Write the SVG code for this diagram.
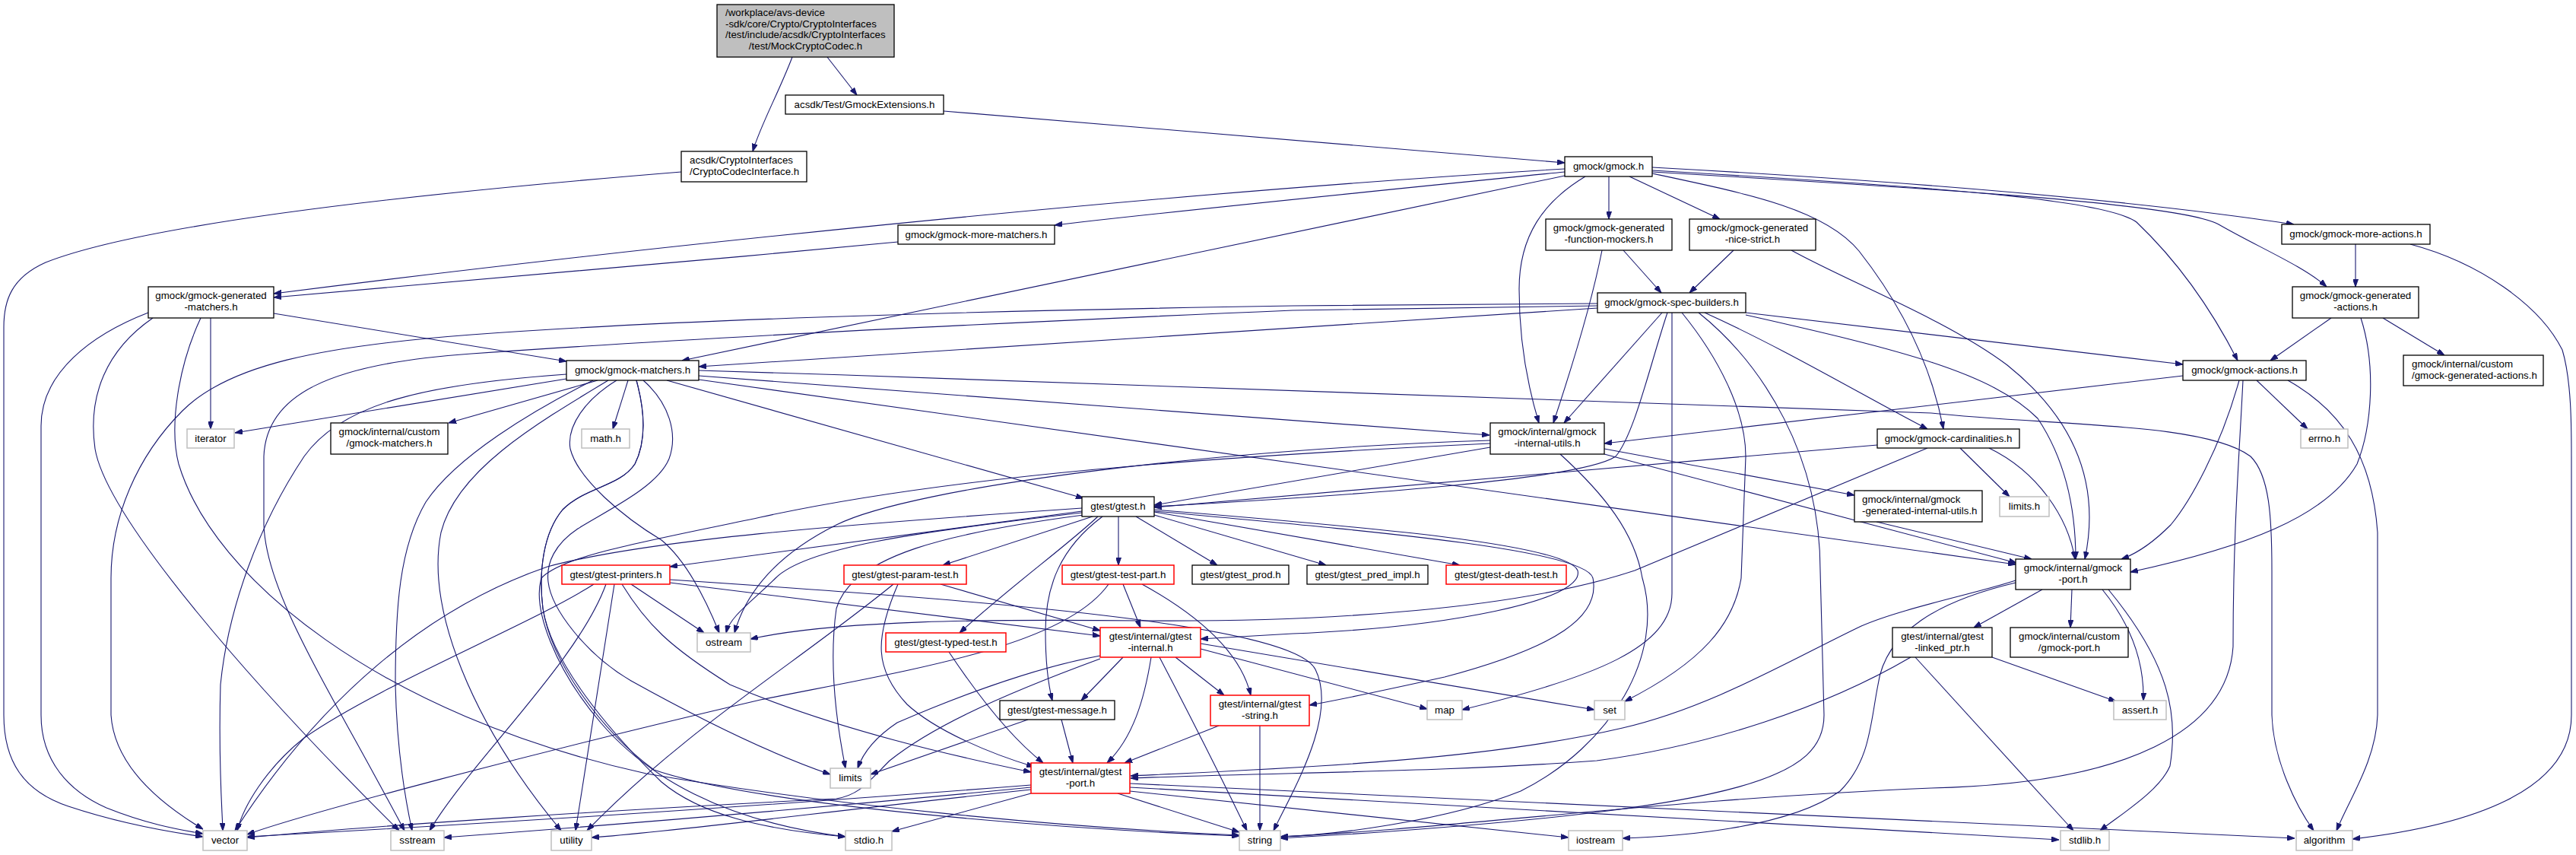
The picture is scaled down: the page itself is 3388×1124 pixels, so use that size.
<svg xmlns="http://www.w3.org/2000/svg" width="3388" height="1124" viewBox="0 0 3388 1124">
<defs>
<marker id="a" viewBox="0 0 10 7" refX="10" refY="3.5" markerWidth="10" markerHeight="7" markerUnits="userSpaceOnUse" orient="auto"><path d="M0,0 L10,3.5 L0,7 z" fill="#191970" stroke="#191970" stroke-width="1"/></marker>
</defs>
<style>
.n rect{fill:#fff;stroke:#000;stroke-width:1.3}
.m rect{fill:#bfbfbf;stroke:#000;stroke-width:1.3}
.g rect{fill:#fff;stroke:#bfbfbf;stroke-width:1.5}
.r rect{fill:#fff;stroke:#ff0000;stroke-width:1.5}
text{font-family:"Liberation Sans",Arial,sans-serif;font-size:13.3px;fill:#000}
.c{text-anchor:middle}
#edges path{fill:none;stroke:#191970;stroke-width:1.1;marker-end:url(#a)}
</style>
<rect x="0" y="0" width="3388" height="1124" fill="#fff"/>
<g id="edges">
<path d="M1042,75 C1025,120 1000,165 990,199"/>
<path d="M1088,75 L1127,125"/>
<path d="M1241,146 L2058,214"/>
<path d="M896,226 C600,250 200,290 60,345 C15,365 5,395 5,430 L5,940 C5,1000 30,1040 90,1060 C150,1080 210,1092 267,1100"/>
<path d="M2058,222 C1500,255 800,330 360,386"/>
<path d="M2058,226 C1800,252 1500,282 1387,296"/>
<path d="M2058,231 L897,474"/>
<path d="M2116,232 L2116,288"/>
<path d="M2143,232 L2262,288"/>
<path d="M2085,232 C2030,265 1998,310 1998,380 C1998,450 2010,510 2024,556"/>
<path d="M2173,228 C2300,255 2400,275 2445,330 C2500,400 2540,480 2556,564"/>
<path d="M2173,220 C2500,238 2800,262 3017,295"/>
<path d="M2173,224 C2550,246 2770,262 2810,292 C2850,330 2900,390 2943,474"/>
<path d="M2173,226 C2550,248 2870,268 2918,295 C2970,325 3030,350 3060,377"/>
<path d="M1181,318 C900,345 600,370 360,391"/>
<path d="M277,418 L277,564"/>
<path d="M360,412 L745,475"/>
<path d="M195,411 C120,440 54,490 54,560 L54,940 C54,1000 90,1040 140,1062 C190,1082 230,1090 267,1096"/>
<path d="M201,418 C140,460 115,520 125,590 C140,680 330,900 525,1092"/>
<path d="M264,418 C235,480 222,560 235,610 C280,760 500,940 850,1017 C1100,1060 1400,1088 1630,1098"/>
<path d="M2135,329 L2185,385"/>
<path d="M2107,329 C2095,390 2075,460 2043,556"/>
<path d="M2280,329 L2222,385"/>
<path d="M2356,329 C2430,370 2560,420 2640,480 C2740,560 2760,650 2742,735"/>
<path d="M3098,321 L3098,377"/>
<path d="M3170,321 C3260,345 3340,400 3370,460 C3382,500 3382,560 3382,600 L3382,940 C3382,1040 3250,1085 3094,1103"/>
<path d="M2101,399 L1700,402 C1200,410 850,423 620,440 C420,455 300,480 240,540 C180,600 146,680 146,760 L146,940 C150,1000 200,1050 267,1090"/>
<path d="M2101,402 L1700,408 C1300,425 900,445 620,465 C430,478 350,520 347,600 L347,690 C350,780 430,900 532,1092"/>
<path d="M2101,405 L919,482"/>
<path d="M2186,411 L2057,556"/>
<path d="M2193,411 C2170,480 2150,570 2125,600 C2080,630 1800,650 1518,666"/>
<path d="M2199,411 L2199,780 C2199,850 2100,890 1923,933"/>
<path d="M2212,411 C2260,470 2296,540 2296,600 L2290,760 C2280,820 2240,870 2137,922"/>
<path d="M2234,411 C2320,480 2394,600 2394,750 L2399,940 C2399,1020 2300,1060 1800,1095 L1684,1102"/>
<path d="M2242,411 C2350,460 2450,520 2535,564"/>
<path d="M2296,411 L2871,479"/>
<path d="M2296,414 C2500,460 2620,490 2680,550 C2720,610 2730,680 2730,735"/>
<path d="M3066,418 L2986,474"/>
<path d="M3105,418 C3125,480 3120,560 3100,610 C3060,680 2950,720 2802,752"/>
<path d="M3134,418 L3215,467"/>
<path d="M2871,494 L2110,583"/>
<path d="M2968,500 L3035,564"/>
<path d="M2945,500 C2920,590 2880,660 2855,690 C2830,715 2810,728 2790,735"/>
<path d="M2950,500 C2945,600 2937,700 2937,850 C2930,960 2800,1030 2540,1036 C2200,1050 1900,1090 1684,1100"/>
<path d="M3009,500 C3080,540 3120,600 3127,700 L3127,940 C3125,1000 3090,1050 3073,1092"/>
<path d="M745,498 L309,569"/>
<path d="M786,500 L590,556"/>
<path d="M826,500 L806,564"/>
<path d="M745,492 C560,505 450,530 400,600 C340,690 300,800 290,900 C287,1000 292,1060 293,1092"/>
<path d="M780,500 C700,540 600,600 560,660 C525,720 520,800 520,900 C522,990 535,1060 542,1092"/>
<path d="M800,500 C700,560 600,620 580,700 C560,800 620,950 738,1092"/>
<path d="M846,500 C880,530 892,570 880,603 C865,640 800,670 760,695 C730,715 718,740 721,765 C725,800 770,860 830,895 C920,945 1010,990 1092,1018"/>
<path d="M811,500 C770,525 745,560 750,590 C760,630 820,680 870,710 C900,735 925,780 946,832"/>
<path d="M837,500 C848,540 850,580 835,610 C815,640 770,640 740,670 C715,700 708,750 714,800 C725,870 800,960 870,1028 C920,1070 1000,1090 1112,1100"/>
<path d="M837,500 C848,540 850,580 835,610 C815,640 770,640 740,670 C715,700 708,750 714,800 C725,870 790,960 860,1012 C1000,1060 1400,1090 1630,1099"/>
<path d="M919,487 C1500,505 2100,525 2540,543 C2700,560 2900,555 2960,600 C2985,625 2988,680 2988,750 L2988,940 C2990,1000 3020,1060 3043,1092"/>
<path d="M919,494 L1959,572"/>
<path d="M919,499 L2651,742"/>
<path d="M877,500 L1425,655"/>
<path d="M2110,590 L2439,651"/>
<path d="M2110,597 L2652,740"/>
<path d="M1960,588 L1518,664"/>
<path d="M1960,579 C1600,590 1200,640 1100,690 C1000,740 975,800 966,832"/>
<path d="M2052,597 C2110,650 2150,700 2160,760 C2190,860 2120,980 2000,1040 C1900,1080 1750,1098 1684,1100"/>
<path d="M1960,583 C1600,600 1250,625 1000,680 C850,712 740,730 712,760 C700,800 730,880 790,950 C850,1020 950,1080 1112,1100"/>
<path d="M2468,686 L2672,735"/>
<path d="M2469,585 L1518,667"/>
<path d="M2535,589 L2150,750 C2000,800 1750,818 1500,816 C1300,814 1100,815 987,840"/>
<path d="M2578,589 L2643,653"/>
<path d="M2616,589 C2680,620 2720,680 2729,735"/>
<path d="M2686,775 L2596,825"/>
<path d="M2725,775 L2723,825"/>
<path d="M2765,775 C2810,830 2820,880 2819,921"/>
<path d="M2773,775 C2854,873 2865,940 2854,1007 C2840,1040 2790,1070 2762,1092"/>
<path d="M2651,763 C2600,780 2500,800 2448,823 C2350,870 2250,930 2134,957 C1950,1000 1700,1010 1487,1020"/>
<path d="M2651,766 C2550,790 2480,830 2470,900 C2460,950 2460,1000 2420,1040 C2350,1090 2200,1100 2134,1102"/>
<path d="M2513,864 C2400,930 2250,980 2100,1000 C1900,1015 1700,1015 1487,1023"/>
<path d="M2519,864 L2727,1092"/>
<path d="M2620,864 L2783,922"/>
<path d="M1423,672 L881,745"/>
<path d="M1423,668 C1100,690 850,710 720,745 C560,800 420,920 309,1092"/>
<path d="M1423,674 C1200,700 1060,720 1020,760 C990,790 960,810 955,832"/>
<path d="M1425,677 C1250,700 1120,730 1100,800 C1090,870 1100,950 1112,1010"/>
<path d="M1437,679 L1240,743"/>
<path d="M1444,679 C1400,720 1330,770 1262,832"/>
<path d="M1450,679 C1395,720 1375,770 1375,830 C1375,880 1380,905 1384,921"/>
<path d="M1471,679 L1471,743"/>
<path d="M1494,679 L1601,743"/>
<path d="M1518,677 L1744,743"/>
<path d="M1518,673 L1920,743"/>
<path d="M1518,670 C1800,693 2060,715 2075,750 C2085,790 1900,825 1700,833 L1579,840"/>
<path d="M1518,672 C1800,698 2085,722 2095,760 C2105,810 2050,850 1900,890 C1800,912 1750,922 1722,927"/>
<path d="M830,768 L926,832"/>
<path d="M881,766 L1447,836"/>
<path d="M881,762 C1300,790 1700,820 1730,880 C1760,940 1700,1040 1675,1092"/>
<path d="M781,768 C700,820 500,900 400,970 C350,1010 320,1060 312,1092"/>
<path d="M797,768 C760,870 620,1000 565,1092"/>
<path d="M808,768 L757,1092"/>
<path d="M818,768 C850,820 880,850 960,900 C1100,960 1260,995 1356,1015"/>
<path d="M1175,768 C1050,870 900,960 772,1092"/>
<path d="M1181,768 C1150,840 1150,880 1193,926 C1230,960 1300,990 1360,1008"/>
<path d="M1237,768 L1447,829"/>
<path d="M1477,768 L1500,825"/>
<path d="M1502,768 C1560,800 1630,850 1645,914"/>
<path d="M1458,768 C1400,850 1200,880 1000,920 C700,990 400,1070 325,1097"/>
<path d="M1248,857 C1290,920 1330,970 1372,1003"/>
<path d="M1447,862 C1350,880 1250,920 1180,950 C1150,970 1135,990 1128,1010"/>
<path d="M1447,866 C1300,920 1220,960 1170,1000 C1140,1030 1130,1045 1100,1050 C800,1065 500,1085 325,1101"/>
<path d="M1477,864 L1422,921"/>
<path d="M1514,864 C1505,920 1490,970 1456,1003"/>
<path d="M1525,864 C1570,950 1610,1030 1640,1092"/>
<path d="M1546,864 L1610,914"/>
<path d="M1579,853 L1877,932"/>
<path d="M1579,846 L2097,933"/>
<path d="M1352,946 L1145,1018"/>
<path d="M1396,946 L1411,1003"/>
<path d="M1657,954 L1657,1092"/>
<path d="M1603,954 L1479,1003"/>
<path d="M1356,1032 C1000,1060 600,1085 325,1100"/>
<path d="M1356,1035 C1100,1060 800,1085 584,1101"/>
<path d="M1356,1038 C1100,1065 900,1092 778,1101"/>
<path d="M1356,1043 L1173,1093"/>
<path d="M1470,1043 L1630,1094"/>
<path d="M1486,1035 L2708,1104"/>
<path d="M1486,1030 L3018,1102"/>
<path d="M1486,1040 L2063,1101"/>
</g>
<g id="n_main" class="m"><rect x="943" y="6" width="233" height="69"/><text x="954" y="21">/workplace/avs-device</text><text x="954" y="36">-sdk/core/Crypto/CryptoInterfaces</text><text x="954" y="50">/test/include/acsdk/CryptoInterfaces</text><text class="c" x="1059.5" y="65">/test/MockCryptoCodec.h</text></g>
<g id="n_gmockext" class="n"><rect x="1033" y="125" width="208" height="25"/><text class="c" x="1137" y="142">acsdk/Test/GmockExtensions.h</text></g>
<g id="n_cryptocodec" class="n"><rect x="896" y="199" width="165" height="40"/><text x="907" y="215">acsdk/CryptoInterfaces</text><text x="907" y="230">/CryptoCodecInterface.h</text></g>
<g id="n_gmock" class="n"><rect x="2058" y="206" width="115" height="26"/><text class="c" x="2115.5" y="223">gmock/gmock.h</text></g>
<g id="n_moremacthers" class="n"><rect x="1181" y="296" width="206" height="25"/><text class="c" x="1284" y="313">gmock/gmock-more-matchers.h</text></g>
<g id="n_funcmockers" class="n"><rect x="2033" y="288" width="166" height="41"/><text class="c" x="2116" y="304">gmock/gmock-generated</text><text class="c" x="2116" y="319">-function-mockers.h</text></g>
<g id="n_nicestrict" class="n"><rect x="2222" y="288" width="166" height="41"/><text class="c" x="2305" y="304">gmock/gmock-generated</text><text class="c" x="2305" y="319">-nice-strict.h</text></g>
<g id="n_moreactions" class="n"><rect x="3001" y="295" width="195" height="26"/><text class="c" x="3098.5" y="312">gmock/gmock-more-actions.h</text></g>
<g id="n_genmatchers" class="n"><rect x="195" y="377" width="165" height="41"/><text class="c" x="277.5" y="393">gmock/gmock-generated</text><text class="c" x="277.5" y="408">-matchers.h</text></g>
<g id="n_specbuilders" class="n"><rect x="2101" y="385" width="195" height="26"/><text class="c" x="2198.5" y="402">gmock/gmock-spec-builders.h</text></g>
<g id="n_genactions" class="n"><rect x="3015" y="377" width="166" height="41"/><text class="c" x="3098" y="393">gmock/gmock-generated</text><text class="c" x="3098" y="408">-actions.h</text></g>
<g id="n_matchers" class="n"><rect x="745" y="474" width="174" height="26"/><text class="c" x="832" y="491">gmock/gmock-matchers.h</text></g>
<g id="n_actions" class="n"><rect x="2871" y="474" width="162" height="26"/><text class="c" x="2952" y="491">gmock/gmock-actions.h</text></g>
<g id="n_customgenactions" class="n"><rect x="3161" y="467" width="184" height="40"/><text x="3172" y="483">gmock/internal/custom</text><text x="3172" y="498">/gmock-generated-actions.h</text></g>
<g id="n_iterator" class="g"><rect x="246" y="564" width="62" height="25"/><text class="c" x="277" y="581">iterator</text></g>
<g id="n_custommatchers" class="n"><rect x="435" y="556" width="154" height="41"/><text class="c" x="512" y="572">gmock/internal/custom</text><text class="c" x="512" y="587">/gmock-matchers.h</text></g>
<g id="n_math" class="g"><rect x="765" y="564" width="63" height="25"/><text class="c" x="796.5" y="581">math.h</text></g>
<g id="n_internalutils" class="n"><rect x="1960" y="556" width="150" height="41"/><text class="c" x="2035" y="572">gmock/internal/gmock</text><text class="c" x="2035" y="587">-internal-utils.h</text></g>
<g id="n_cardinalities" class="n"><rect x="2469" y="564" width="187" height="25"/><text class="c" x="2562.5" y="581">gmock/gmock-cardinalities.h</text></g>
<g id="n_errno" class="g"><rect x="3026" y="564" width="62" height="25"/><text class="c" x="3057" y="581">errno.h</text></g>
<g id="n_gtest" class="n"><rect x="1423" y="653" width="95" height="26"/><text class="c" x="1470.5" y="670">gtest/gtest.h</text></g>
<g id="n_geninternalutils" class="n"><rect x="2439" y="645" width="168" height="41"/><text x="2449" y="661">gmock/internal/gmock</text><text x="2449" y="676">-generated-internal-utils.h</text></g>
<g id="n_limitsh" class="g"><rect x="2630" y="653" width="65" height="26"/><text class="c" x="2662.5" y="670">limits.h</text></g>
<g id="n_gmockport" class="n"><rect x="2651" y="735" width="151" height="40"/><text class="c" x="2726.5" y="751">gmock/internal/gmock</text><text class="c" x="2726.5" y="766">-port.h</text></g>
<g id="n_printers" class="r"><rect x="739" y="743" width="142" height="25"/><text class="c" x="810" y="760">gtest/gtest-printers.h</text></g>
<g id="n_paramtest" class="r"><rect x="1110" y="743" width="161" height="25"/><text class="c" x="1190.5" y="760">gtest/gtest-param-test.h</text></g>
<g id="n_testpart" class="r"><rect x="1397" y="743" width="147" height="25"/><text class="c" x="1470.5" y="760">gtest/gtest-test-part.h</text></g>
<g id="n_prod" class="n"><rect x="1568" y="743" width="127" height="25"/><text class="c" x="1631.5" y="760">gtest/gtest_prod.h</text></g>
<g id="n_predimpl" class="n"><rect x="1719" y="743" width="159" height="25"/><text class="c" x="1798.5" y="760">gtest/gtest_pred_impl.h</text></g>
<g id="n_deathtest" class="r"><rect x="1902" y="743" width="158" height="25"/><text class="c" x="1981" y="760">gtest/gtest-death-test.h</text></g>
<g id="n_ostream" class="g"><rect x="917" y="832" width="70" height="25"/><text class="c" x="952" y="849">ostream</text></g>
<g id="n_typedtest" class="r"><rect x="1165" y="832" width="158" height="25"/><text class="c" x="1244" y="849">gtest/gtest-typed-test.h</text></g>
<g id="n_gtestinternal" class="r"><rect x="1447" y="825" width="132" height="39"/><text class="c" x="1513" y="841">gtest/internal/gtest</text><text class="c" x="1513" y="856">-internal.h</text></g>
<g id="n_linkedptr" class="n"><rect x="2489" y="825" width="131" height="39"/><text class="c" x="2554.5" y="841">gtest/internal/gtest</text><text class="c" x="2554.5" y="856">-linked_ptr.h</text></g>
<g id="n_customport" class="n"><rect x="2644" y="825" width="155" height="39"/><text class="c" x="2721.5" y="841">gmock/internal/custom</text><text class="c" x="2721.5" y="856">/gmock-port.h</text></g>
<g id="n_message" class="n"><rect x="1315" y="921" width="151" height="25"/><text class="c" x="1390.5" y="938">gtest/gtest-message.h</text></g>
<g id="n_gteststring" class="r"><rect x="1592" y="914" width="130" height="40"/><text class="c" x="1657" y="930">gtest/internal/gtest</text><text class="c" x="1657" y="945">-string.h</text></g>
<g id="n_map" class="g"><rect x="1877" y="921" width="46" height="25"/><text class="c" x="1900" y="938">map</text></g>
<g id="n_set" class="g"><rect x="2097" y="921" width="40" height="25"/><text class="c" x="2117" y="938">set</text></g>
<g id="n_assert" class="g"><rect x="2780" y="921" width="69" height="25"/><text class="c" x="2814.5" y="938">assert.h</text></g>
<g id="n_limits" class="g"><rect x="1092" y="1010" width="53" height="26"/><text class="c" x="1118.5" y="1027">limits</text></g>
<g id="n_gtestport" class="r"><rect x="1356" y="1003" width="130" height="40"/><text class="c" x="1421" y="1019">gtest/internal/gtest</text><text class="c" x="1421" y="1034">-port.h</text></g>
<g id="n_vector" class="g"><rect x="267" y="1092" width="58" height="26"/><text class="c" x="296" y="1109">vector</text></g>
<g id="n_sstream" class="g"><rect x="514" y="1092" width="70" height="26"/><text class="c" x="549" y="1109">sstream</text></g>
<g id="n_utility" class="g"><rect x="725" y="1092" width="53" height="26"/><text class="c" x="751.5" y="1109">utility</text></g>
<g id="n_stdio" class="g"><rect x="1112" y="1092" width="61" height="26"/><text class="c" x="1142.5" y="1109">stdio.h</text></g>
<g id="n_string" class="g"><rect x="1630" y="1092" width="54" height="26"/><text class="c" x="1657" y="1109">string</text></g>
<g id="n_iostream" class="g"><rect x="2063" y="1092" width="71" height="26"/><text class="c" x="2098.5" y="1109">iostream</text></g>
<g id="n_stdlib" class="g"><rect x="2710" y="1092" width="64" height="26"/><text class="c" x="2742" y="1109">stdlib.h</text></g>
<g id="n_algorithm" class="g"><rect x="3020" y="1092" width="74" height="26"/><text class="c" x="3057" y="1109">algorithm</text></g>
</svg>
